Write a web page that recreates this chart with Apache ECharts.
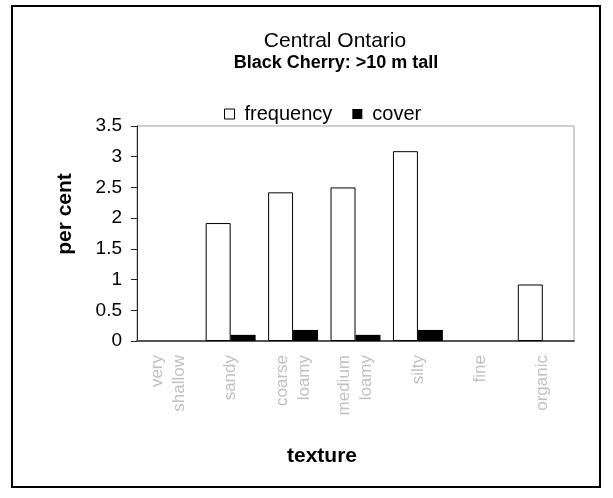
<!DOCTYPE html>
<html lang="en">
<head>
    <meta charset="UTF-8">
    <title>Black Cherry</title>
    <script src="https://cdn.jsdelivr.net/npm/echarts@6/dist/echarts.min.js"></script>
    <style>
        *{
            margin: 0;
            padding: 0;
        }
        .container{
            width: 613px;
            height: 498px;
        }
    </style>
</head>
<body>
<div class="container"></div>
<script>
    // data
    let categories = ['very\nshallow', 'sandy', 'coarse\nloamy', 'medium\nloamy', 'silty', 'fine', 'organic'];
    let frequency = [0, 1.92, 2.42, 2.5, 3.09, 0, 0.92];
    let cover = [0, 0.1, 0.18, 0.1, 0.18, 0, 0];
    let yTicks = [0, 0.5, 1, 1.5, 2, 2.5, 3, 3.5];

    let main = document.querySelectorAll(".container");
    let mycharts = echarts.init(main[0]);

    let font = 'Liberation Sans, Arial, sans-serif';
    // empty cells draw nothing in the original
    let noZero = arr => arr.map(v => v === 0 ? '-' : v);

    let Option = {
        backgroundColor: '#fff',
        animation: false,
        textStyle: {fontFamily: font},
        title: [{
            text: 'Central Ontario',
            left: 330,
            top: 26,
            textAlign: 'center',
            textStyle: {fontSize: 21, fontWeight: 'normal', color: '#000', fontFamily: font}
        }, {
            text: 'Black Cherry: >10 m tall',
            left: 331,
            top: 49,
            textAlign: 'center',
            textStyle: {fontSize: 18, fontWeight: 'bold', color: '#000', fontFamily: font}
        }],
        legend: {
            left: 219,
            top: 99,
            itemWidth: 10,
            itemHeight: 10,
            itemGap: 20,
            textStyle: {fontSize: 20, color: '#000', fontFamily: font, padding: [0, 0, 0, 5]},
            data: [{
                name: 'frequency',
                icon: 'rect',
                itemStyle: {color: '#fff', borderColor: '#000', borderWidth: 1}
            }, {
                name: 'cover',
                icon: 'rect',
                itemStyle: {color: '#000'}
            }]
        },
        grid: {
            left: 137,
            right: 39,
            top: 126,
            bottom: 157,
            show: true,
            borderColor: '#a0a0a0',
            borderWidth: 1
        },
        xAxis: {
            type: 'category',
            data: categories,
            axisLine: {lineStyle: {color: '#555', width: 2}},
            axisTick: {show: false},
            axisLabel: {
                rotate: 90,
                margin: 14,
                fontSize: 17,
                lineHeight: 22,
                color: '#c0c0c0',
                fontFamily: font,
                interval: 0
            }
        },
        yAxis: {
            type: 'value',
            min: 0,
            max: 3.5,
            interval: 0.5,
            splitLine: {show: false},
            axisLine: {show: true, lineStyle: {color: '#222', width: 1}},
            axisTick: {show: true, inside: false, length: 6, lineStyle: {color: '#222'}},
            axisLabel: {
                fontSize: 19,
                color: '#000',
                margin: 15,
                fontFamily: font,
                formatter: v => yTicks.includes(v) ? String(v) : ''
            }
        },
        graphic: [{
            type: 'rect',
            shape: {x: 12, y: 6, width: 588, height: 481},
            style: {fill: 'none', stroke: '#000', lineWidth: 2},
            silent: true
        }, {
            type: 'text',
            x: 65,
            y: 214,
            rotation: Math.PI / 2,
            style: {
                text: 'per cent',
                font: 'bold 21px ' + font,
                fill: '#000',
                align: 'center',
                verticalAlign: 'middle'
            }
        }, {
            type: 'text',
            x: 322,
            y: 456,
            style: {
                text: 'texture',
                font: 'bold 21px ' + font,
                fill: '#000',
                align: 'center',
                verticalAlign: 'middle'
            }
        }],
        series: [{
            name: 'frequency',
            type: 'bar',
            data: noZero(frequency),
            barGap: 0,
            barCategoryGap: '20%',
            itemStyle: {color: '#fff', borderColor: '#000', borderWidth: 1}
        }, {
            name: 'cover',
            type: 'bar',
            data: noZero(cover),
            itemStyle: {color: '#000'}
        }]
    };

    mycharts.setOption(Option);
</script>
</body>
</html>
